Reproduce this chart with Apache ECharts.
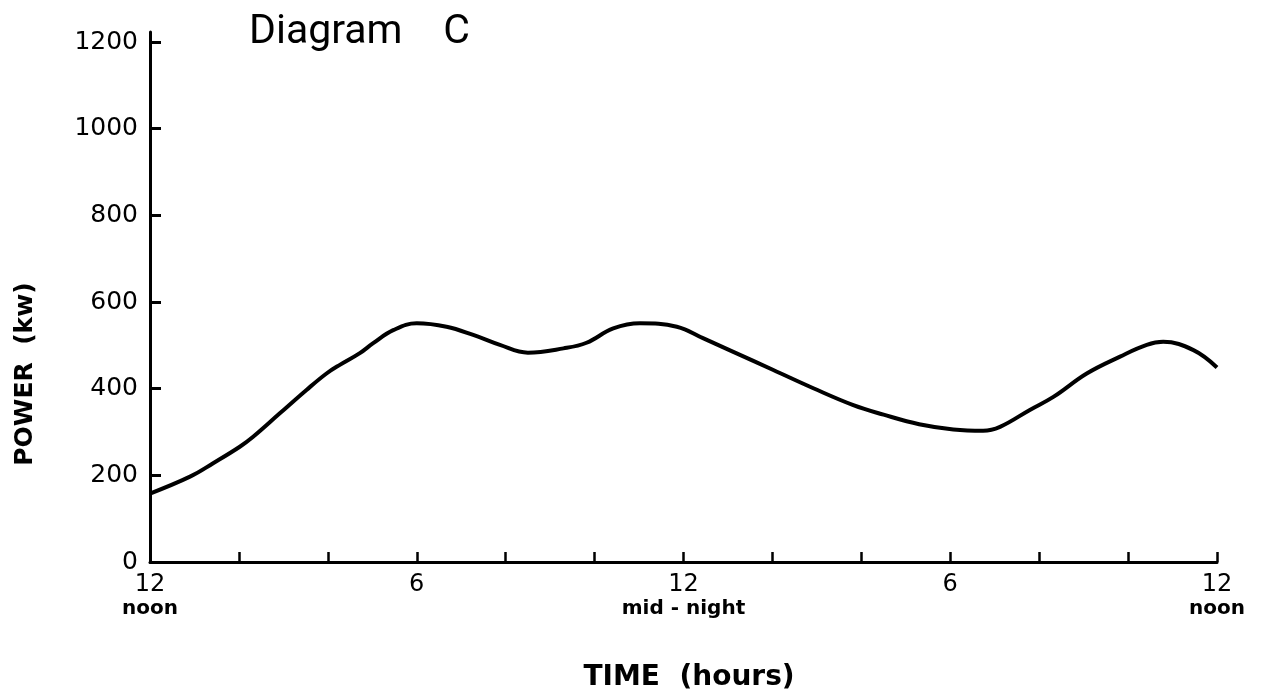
<!DOCTYPE html>
<html>
<head>
<meta charset="utf-8">
<script src="https://cdn.jsdelivr.net/npm/echarts@6/dist/echarts.min.js"></script>
<style>
html,body{margin:0;padding:0;background:#fff;}
#c{width:1271px;height:698px;}
</style>
</head>
<body>
<div id="c"></div>
<script>
// Hours after 12 noon
const hours = [0, 0.9, 1.42, 2.02, 2.32, 2.92, 3.52, 3.97, 4.27, 4.72, 5.02, 5.47, 6.0, 6.67, 7.27, 7.87, 8.5, 9.3, 9.82, 10.42, 11.02, 11.85, 12.45, 13.12, 14.02, 14.92, 15.82, 16.5, 17.3, 18.07, 18.74, 19.12, 19.79, 20.32, 21.07, 21.82, 22.42, 22.79, 23.47, 24];
// Power in kW
const power = [158, 197, 228, 266, 289, 343, 397, 435, 455, 482, 505, 535, 551, 543, 524, 501, 483, 493, 506, 539, 551, 543, 516, 485, 443, 401, 362, 340, 318, 306, 303, 312, 351, 381, 435, 474, 501, 508, 489, 449];
// Tick labels on time axis
const timeTickValues = [0, 6, 12, 18, 24];
const timeTickHours = ['12', '6', '12', '6', '12'];
const timeTickNotes = ['noon', '', 'mid - night', '', 'noon'];
const powerTicks = [0, 200, 400, 600, 800, 1000, 1200];

const chart = echarts.init(document.getElementById('c'));
const fontLbl = '"DejaVu Sans", sans-serif';

chart.setOption({
  animation: false,
  backgroundColor: '#fff',
  title: {
    text: 'Diagram    C',
    left: 244, top: 7,
    textStyle: { fontFamily: 'Roboto, sans-serif', fontSize: 41, fontWeight: 'normal', color: '#000' }
  },
  graphic: [
    {
      type: 'text', x: 689, y: 678,
      style: { text: 'TIME  (hours)', fontFamily: fontLbl, fontSize: 28, fontWeight: 'bold', fill: '#000',
               align: 'center', verticalAlign: 'middle', textAlign: 'center', textVerticalAlign: 'middle' }
    },
    {
      type: 'text', x: 25, y: 374, rotation: Math.PI / 2,
      style: { text: 'POWER  (kw)', fontFamily: fontLbl, fontSize: 25, fontWeight: 'bold', fill: '#000',
               align: 'center', verticalAlign: 'middle', textAlign: 'center', textVerticalAlign: 'middle' }
    }
  ],
  grid: [
    { left: 150, right: 54, top: 42, bottom: 136 },
    { left: 150, right: 54, top: 32, bottom: 136 }
  ],
  xAxis: [{
    type: 'value', min: 0, max: 24, interval: 2, gridIndex: 0,
    axisLine: { lineStyle: { color: '#000', width: 3 } },
    axisTick: { inside: true, length: 10, lineStyle: { color: '#000', width: 2.5 } },
    splitLine: { show: false },
    axisLabel: {
      margin: 10,
      formatter: function (v) {
        const i = timeTickValues.indexOf(v);
        if (i < 0) return '';
        return timeTickNotes[i] ? '{a|' + timeTickHours[i] + '}\n{b|' + timeTickNotes[i] + '}' : '{a|' + timeTickHours[i] + '}';
      },
      rich: {
        a: { fontFamily: fontLbl, fontSize: 24, color: '#000', lineHeight: 26 },
        b: { fontFamily: fontLbl, fontSize: 20, fontWeight: 'bold', color: '#000', lineHeight: 22 }
      }
    }
  }, {
    type: 'value', min: 0, max: 24, gridIndex: 1, show: false
  }],
  yAxis: [{
    type: 'value', min: 0, max: 1200, interval: 200, gridIndex: 0,
    axisLine: { show: true, lineStyle: { color: '#000', width: 3 } },
    axisTick: { show: true, inside: true, length: 11, lineStyle: { color: '#000', width: 3 } },
    splitLine: { show: false },
    axisLabel: {
      margin: 12, fontFamily: fontLbl, fontSize: 25, color: '#000',
      formatter: function (v) { return powerTicks.indexOf(v) >= 0 ? String(v) : ''; }
    }
  }, {
    type: 'value', min: 0, max: 1224, gridIndex: 1, position: 'right',
    axisLine: { show: true, lineStyle: { color: '#000', width: 3 } },
    axisTick: { show: false }, axisLabel: { show: false }, splitLine: { show: false }
  }],
  series: [{
    type: 'line', xAxisIndex: 0, yAxisIndex: 0,
    data: hours.map((h, i) => [h, power[i]]),
    smooth: 0.4, showSymbol: false,
    lineStyle: { color: '#000', width: 4 }
  }]
});
</script>
</body>
</html>
